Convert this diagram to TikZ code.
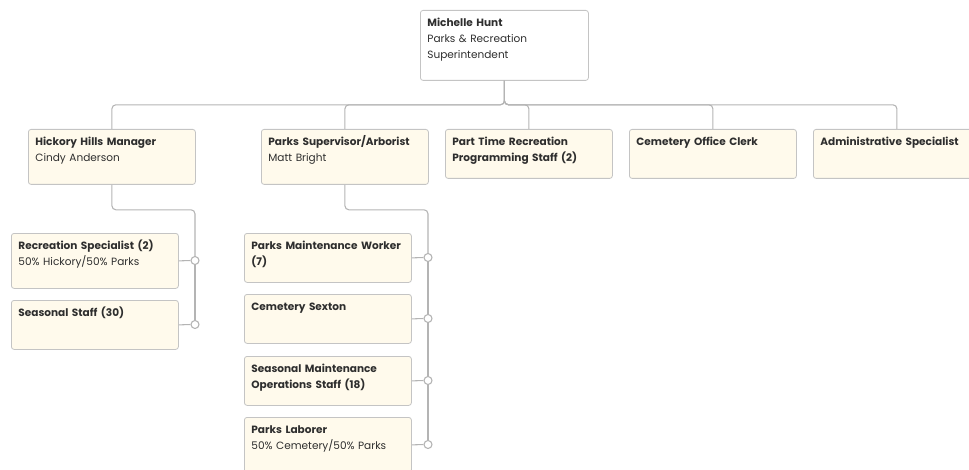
\documentclass[tikz,border=0pt]{standalone}
\usepackage{fontspec}
\setmainfont{Poppins}
\definecolor{cardfill}{HTML}{FFFAEC}
\definecolor{cardline}{HTML}{C4C4C4}
\definecolor{wire}{HTML}{B4B4B4}
\definecolor{ink}{HTML}{2E2E2E}
\begin{document}
\begin{tikzpicture}[x=0.75pt, y=-0.75pt,
  card/.style={draw=cardline, fill=cardfill, line width=0.6pt, rounded corners=2pt, anchor=north west,
    inner xsep=5.25pt, inner ysep=0pt, text width=114.75pt, align=left,
    text height=12pt, text depth=24.75pt, font=\fontsize{7.9}{12}\selectfont, text=ink},
  tall/.style={text depth=29.25pt},
  link/.style={draw=wire, line width=0.8pt, rounded corners=3pt},
  joint/.style={circle, draw=wire, fill=white, line width=0.8pt, inner sep=0pt, minimum size=6pt}]
\clip (0,0) rectangle (969,470);
% top
\node[card, fill=white, text width=115.5pt, text depth=40.5pt] (boss) at (420,10) {\textbf{Michelle Hunt}\\Parks \& Recreation\\Superintendent};
% first row
\node[card, tall] (hh) at (28,129) {\textbf{Hickory Hills Manager}\\Cindy Anderson};
\node[card, tall] (ps) at (261,129) {\textbf{Parks Supervisor/Arborist}\\Matt Bright};
\node[card] (pt) at (445,129) {\textbf{Part Time Recreation}\\\textbf{Programming Staff (2)}};
\node[card] (co) at (629,129) {\textbf{Cemetery Office Clerk}};
\node[card] (ad) at (813,129) {\mbox{\textbf{Administrative Specialist}}};
% hickory hills staff
\node[card, tall] (rs) at (11,233) {\textbf{Recreation Specialist (2)}\\50\% Hickory/50\% Parks};
\node[card] (ss) at (11,300) {\textbf{Seasonal Staff (30)}};
\node[joint] (h1) at (195,260.5) {};
\node[joint] (h2) at (195,324.5) {};
% parks staff
\node[card] (pm) at (244,233) {\mbox{\textbf{Parks Maintenance Worker}}\\\textbf{(7)}};
\node[card] (cs) at (244,294) {\textbf{Cemetery Sexton}};
\node[card] (sm) at (244,356) {\textbf{Seasonal Maintenance}\\\textbf{Operations Staff (18)}};
\node[card, tall] (pl) at (244,417) {\textbf{Parks Laborer}\\50\% Cemetery/50\% Parks};
\node[joint] (p1) at (428,257.5) {};
\node[joint] (p2) at (428,318.5) {};
\node[joint] (p3) at (428,380.5) {};
\node[joint] (p4) at (428,444.5) {};
% connectors
\draw[link] (boss.south) -- ++(0,24) -| (hh.north);
\draw[link] (boss.south) -- ++(0,24) -| (ps.north);
\draw[link] (boss.south) -- ++(0,24) -| (pt.north);
\draw[link] (boss.south) -- ++(0,24) -| (co.north);
\draw[link] (boss.south) -- ++(0,24) -| (ad.north);
\draw[link] (hh.south) -- ++(0,25) -| (h1.north);
\draw[link] (h1.south) -- (h2.north);
\draw[link] (rs.east) -- (h1.west);
\draw[link] (ss.east) -- (h2.west);
\draw[link] (ps.south) -- ++(0,25) -| (p1.north);
\draw[link] (p1.south) -- (p2.north);
\draw[link] (p2.south) -- (p3.north);
\draw[link] (p3.south) -- (p4.north);
\draw[link] (pm.east) -- (p1.west);
\draw[link] (cs.east) -- (p2.west);
\draw[link] (sm.east) -- (p3.west);
\draw[link] (pl.east) -- (p4.west);
\end{tikzpicture}
\end{document}
